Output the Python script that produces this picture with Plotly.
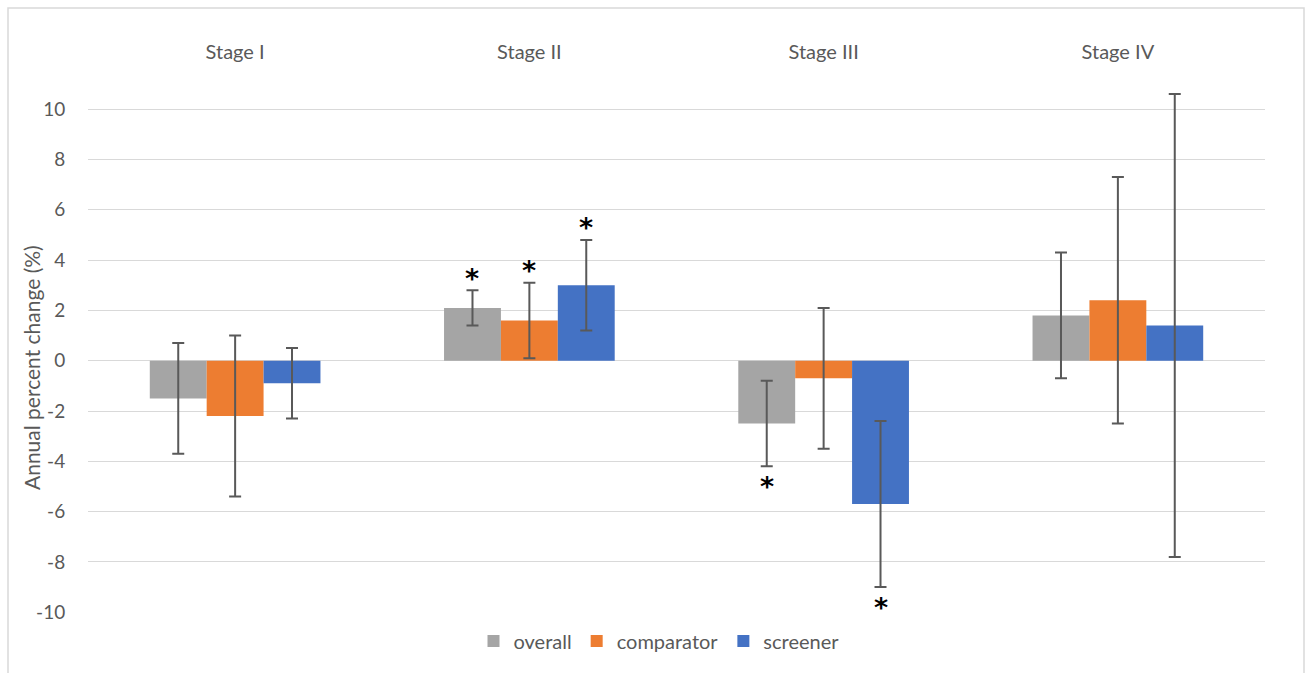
import plotly.graph_objects as go

# Annual percent change by stage, with 95% confidence limits
stages = ["Stage I", "Stage II", "Stage III", "Stage IV"]
series_names = ["overall", "comparator", "screener"]
colors = ["#A5A5A5", "#ED7D31", "#4472C4"]

overall = [-1.5, 2.1, -2.5, 1.8]
overall_lo = [-3.7, 1.4, -4.2, -0.7]
overall_hi = [0.7, 2.8, -0.8, 4.3]

comparator = [-2.2, 1.6, -0.7, 2.4]
comparator_lo = [-5.4, 0.1, -3.5, -2.5]
comparator_hi = [1.0, 3.1, 2.1, 7.3]

screener = [-0.9, 3.0, -5.7, 1.4]
screener_lo = [-2.3, 1.2, -9.0, -7.8]
screener_hi = [0.5, 4.8, -2.4, 10.6]

# significance markers: "up" = asterisk above the upper limit, "down" = below the lower limit
overall_sig = [None, "up", "down", None]
comparator_sig = [None, "up", None, None]
screener_sig = [None, "up", "down", None]

y_tickvals = [-10, -8, -6, -4, -2, 0, 2, 4, 6, 8, 10]
y_ticktext = ["-10", "-8", "-6", "-4", "-2", "0", "2", "4", "6", "8", "10"]
y_title = "Annual percent change (%)"

values = [overall, comparator, screener]
lows = [overall_lo, comparator_lo, screener_lo]
highs = [overall_hi, comparator_hi, screener_hi]
sigs = [overall_sig, comparator_sig, screener_sig]

W, H = 1306, 673
ML, MR, MT, MB = 88, 41, 84, 60
BARGAP = 0.42
FONT = "Lato, 'Open Sans', sans-serif"
TXT = "#595959"
GRID = "#D9D9D9"

fig = go.Figure()
for name, col, v, lo, hi in zip(series_names, colors, values, lows, highs):
    fig.add_trace(go.Bar(
        name=name, x=stages, y=v, marker=dict(color=col, line=dict(width=0)),
        error_y=dict(type="data", symmetric=False,
                     array=[h - y for h, y in zip(hi, v)],
                     arrayminus=[y - l for y, l in zip(v, lo)],
                     color="#595959", thickness=2, width=6),
    ))

bar_w = (1 - BARGAP) / len(series_names)
for k, (sig, lo, hi) in enumerate(zip(sigs, lows, highs)):
    off = (k - (len(series_names) - 1) / 2) * bar_w
    for i, s in enumerate(sig):
        if s is None:
            continue
        fig.add_annotation(
            x=i + off, y=hi[i] if s == "up" else lo[i], xref="x", yref="y",
            text="<b>*</b>", showarrow=False, yanchor="middle",
            yshift=12 if s == "up" else -20,
            font=dict(family="DejaVu Sans, sans-serif", size=27, color="black"),
        )

# pixel -> paper helpers for the frame, legend and axis title
pw, ph = W - ML - MR, H - MT - MB
def px_x(p):
    return (p - ML) / pw
def px_y(p):
    return (H - MB - p) / ph

fig.add_shape(type="rect", xref="paper", yref="paper",
              x0=px_x(8), x1=px_x(1304), y0=px_y(690), y1=px_y(8),
              line=dict(color=GRID, width=1.5), fillcolor="rgba(0,0,0,0)", layer="below")

fig.add_annotation(text=y_title, textangle=-90, showarrow=False,
                   xref="paper", yref="paper", x=px_x(31), y=px_y(368),
                   xanchor="center", yanchor="middle",
                   font=dict(family=FONT, size=21, color=TXT))

fig.update_layout(
    width=W, height=H, margin=dict(l=ML, r=MR, t=MT, b=MB),
    paper_bgcolor="white", plot_bgcolor="white",
    barmode="group", bargap=BARGAP, bargroupgap=0,
    font=dict(family=FONT, color=TXT, size=19),
    showlegend=True,
    legend=dict(orientation="h", x=px_x(659), xanchor="center", y=px_y(641), yanchor="middle",
                font=dict(size=20, color=TXT), itemwidth=30, traceorder="normal"),
    xaxis=dict(side="top", showgrid=False, showline=False, zeroline=False,
               ticks="outside", ticklen=16, tickcolor="rgba(0,0,0,0)",
               tickfont=dict(size=20, color=TXT)),
    yaxis=dict(range=[-10.03, 11], tickmode="array", tickvals=y_tickvals, ticktext=y_ticktext,
               showgrid=True, gridcolor=GRID, gridwidth=1.3,
               zeroline=True, zerolinecolor=GRID, zerolinewidth=1.3,
               showline=False, ticks="outside", ticklen=18, tickcolor="rgba(0,0,0,0)",
               tickfont=dict(size=19, color=TXT)),
)

fig.write_html("out.html")
